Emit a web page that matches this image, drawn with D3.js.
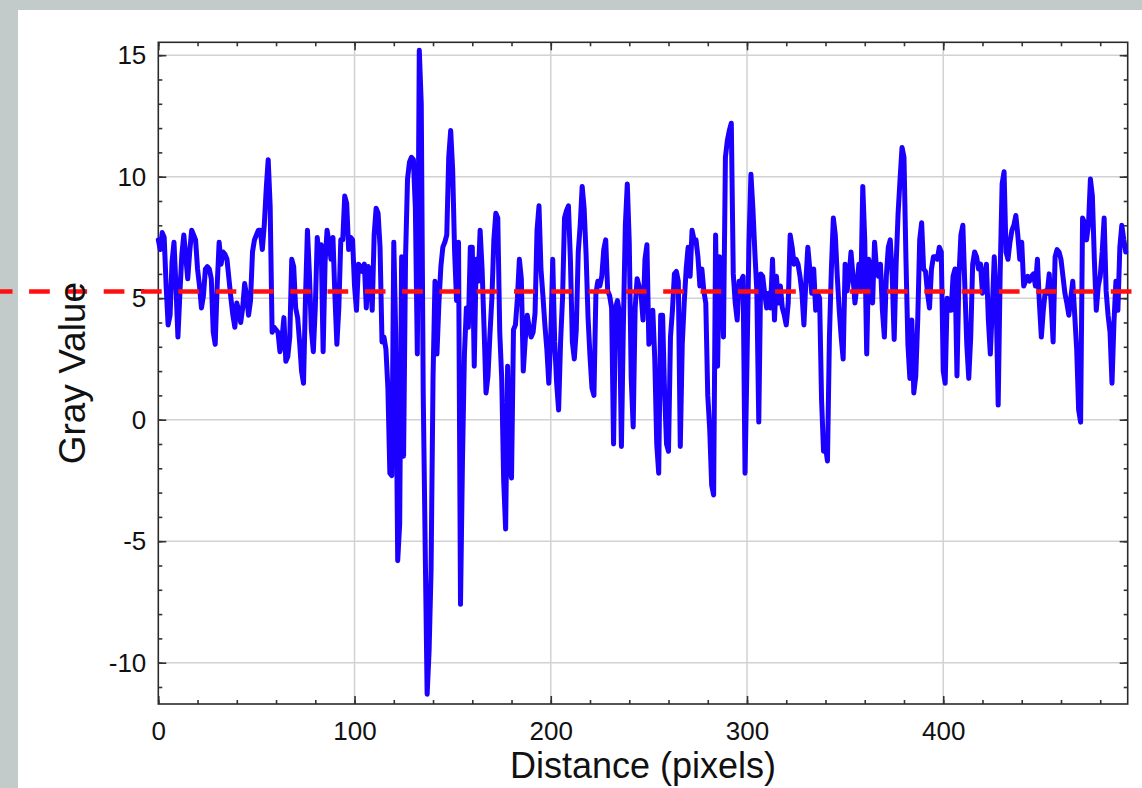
<!DOCTYPE html>
<html>
<head>
<meta charset="utf-8">
<script src="https://cdn.jsdelivr.net/npm/d3@7"></script>
<style>
    html, body { margin: 0; padding: 0; background: #c3caca; }
    #chart { width: 1142px; height: 788px; }
    text { font-family: "Liberation Sans", Arial, Helvetica, sans-serif; fill: #111; }
</style>
</head>
<body>
<div id="chart"></div>
<script>
// profile values, one per pixel of distance (0..493)
const grayValues = [
    7.4, 7.0, 7.7, 7.5, 5.5, 3.9, 4.3, 6.5, 7.3, 5.5, 3.4, 5.2, 6.8, 7.6, 6.7, 5.8, 6.9, 7.8, 7.6, 7.4,
    6.2, 5.5, 4.6, 5.1, 6.2, 6.3, 6.2, 5.8, 3.6, 3.1, 5.5, 7.3, 6.4, 6.9, 6.8, 6.6, 5.8, 5.0, 4.3, 3.8,
    4.8, 4.5, 4.0, 4.6, 5.6, 5.1, 4.3, 4.9, 6.9, 7.4, 7.6, 7.8, 7.8, 7.0, 8.0, 9.5, 10.7, 8.8, 3.6, 3.8,
    3.7, 3.6, 2.8, 3.3, 4.2, 2.4, 2.6, 3.4, 6.6, 6.3, 4.6, 4.2, 3.2, 2.0, 1.5, 5.0, 7.8, 6.0, 3.7, 2.8,
    4.6, 7.5, 6.6, 7.2, 2.8, 6.5, 7.8, 7.3, 6.6, 7.5, 5.1, 3.1, 4.6, 7.4, 7.4, 9.2, 8.9, 7.0, 7.5, 7.4,
    5.5, 4.5, 6.4, 6.3, 6.1, 6.4, 4.6, 6.3, 6.0, 4.5, 7.6, 8.7, 8.5, 7.1, 3.2, 3.4, 2.9, 1.3, -2.2, -2.3,
    7.3, 3.5, -5.8, -4.3, 6.7, -1.5, 6.7, 9.9, 10.6, 10.8, 10.7, 8.7, 2.7, 15.2, 13.0, 1.1, -5.2, -11.3, -9.5, -6.2,
    1.7, 5.7, 2.7, 4.8, 6.3, 7.1, 7.3, 7.6, 10.8, 11.9, 10.3, 6.9, 4.9, 7.3, -7.6, -1.7, 2.7, 4.6, 3.8, 7.1,
    7.1, 2.2, 6.6, 5.7, 7.8, 6.2, 3.8, 1.1, 1.8, 3.5, 5.0, 7.4, 8.5, 8.3, 3.6, 1.7, -2.5, -4.5, 2.2, -1.8,
    -2.4, 3.7, 3.9, 5.0, 6.6, 5.8, 2.0, 3.3, 4.3, 3.8, 3.4, 3.6, 4.4, 7.8, 8.8, 6.2, 5.1, 3.9, 2.9, 1.5,
    3.4, 6.6, 3.2, 1.5, 0.4, 3.2, 5.0, 8.3, 8.6, 8.8, 6.6, 3.2, 2.5, 3.7, 6.9, 8.0, 9.6, 8.7, 6.8, 4.2,
    2.6, 1.3, 1.0, 5.2, 5.7, 5.5, 5.9, 7.0, 7.4, 5.3, 5.1, 4.6, -1.0, 4.6, 4.9, 4.4, -1.1, 3.9, 8.0, 9.7,
    7.3, 1.7, -0.3, 4.6, 5.8, 5.5, 5.2, 4.1, 6.6, 7.2, 3.1, 3.4, 4.5, 2.5, -1.0, -2.2, 4.3, 4.3, 1.1, -1.0,
    -1.3, 3.4, 4.5, 6.0, 6.1, 5.7, -1.1, 3.1, 4.8, 6.2, 7.1, 5.9, 7.8, 7.4, 7.4, 6.7, 5.5, 6.2, 5.3, 4.8,
    1.0, -0.4, -2.7, -3.1, 7.6, 2.2, 6.7, 6.6, 3.4, 10.8, 11.5, 11.9, 12.2, 6.0, 4.8, 4.1, 5.7, 5.7, 5.9, -2.2,
    2.4, 7.3, 10.1, 8.7, 6.9, 5.3, -0.1, 6.0, 5.9, 5.2, 4.6, 5.2, 4.6, 6.6, 4.1, 5.9, 4.8, 5.5, 4.6, 4.3,
    3.9, 4.8, 7.6, 7.1, 6.4, 6.6, 6.4, 5.9, 5.2, 3.9, 5.7, 7.1, 6.2, 5.2, 6.2, 4.5, 5.2, 5.0, 0.8, -1.3,
    -1.1, -1.7, 3.4, 6.2, 8.3, 7.6, 5.9, 4.5, 3.4, 2.5, 6.4, 5.3, 5.9, 6.9, 5.9, 4.8, 5.5, 6.4, 5.3, 9.6,
    7.4, 2.7, 6.6, 6.2, 4.8, 7.3, 6.2, 5.9, 6.4, 4.5, 3.4, 5.9, 7.1, 7.4, 5.9, 3.3, 6.4, 8.5, 9.9, 11.2,
    10.8, 6.6, 3.1, 1.7, 4.1, 1.1, 1.8, 4.1, 7.4, 8.1, 6.2, 6.1, 5.2, 4.6, 6.2, 6.7, 6.7, 6.6, 7.1, 6.9,
    2.0, 1.5, 5.0, 4.5, 4.5, 5.9, 6.2, 1.8, 5.9, 7.6, 8.0, 5.5, 3.1, 1.7, 3.4, 6.4, 6.9, 6.7, 6.2, 6.4,
    5.2, 5.9, 6.4, 4.1, 2.7, 4.6, 6.7, 4.8, 0.6, 6.0, 9.7, 10.2, 6.9, 6.6, 7.3, 7.8, 8.0, 8.4, 7.6, 6.6,
    7.3, 5.5, 5.7, 5.9, 5.7, 5.9, 6.0, 5.5, 6.6, 4.8, 3.4, 4.5, 5.3, 5.2, 6.0, 4.8, 3.2, 6.7, 7.0, 6.9,
    6.6, 5.9, 5.2, 4.8, 4.3, 5.0, 5.7, 4.3, 2.9, 0.4, -0.1, 8.3, 8.1, 7.4, 8.0, 9.9, 9.2, 6.6, 4.5, 5.5,
    5.9, 6.9, 8.3, 5.3, 4.3, 3.6, 1.5, 4.0, 5.7, 4.5, 7.1, 8.0, 7.4, 6.9
];
const distances = grayValues.map((v, i) => i);

// dashed reference level
const refLevel = [5.28];

const xTicks = [0, 100, 200, 300, 400];
const xMinorTicks = d3.range(0, 494, 20);
const yTicks = [-10, -5, 0, 5, 10, 15];
const yMinorTicks = d3.range(-11, 16, 1);

const xDomain = [0, 494];
const yDomain = [-11.7, 15.53];

const W = 1142, H = 788;
const plot = { left: 158.3, right: 1127.7, top: 42.3, bottom: 704 };

const svg = d3.select('#chart')
    .append('svg')
    .attr('width', W)
    .attr('height', H);

// white panel on gray backdrop
svg.append('rect')
    .attr('x', 18).attr('y', 10)
    .attr('width', W - 18).attr('height', H - 10)
    .attr('fill', '#ffffff');

const x = d3.scaleLinear().domain(xDomain).range([plot.left, plot.right]);
const y = d3.scaleLinear().domain(yDomain).range([plot.bottom, plot.top]);

// grid
const grid = svg.append('g').attr('stroke', '#d2d2d2').attr('stroke-width', 1.5);
grid.selectAll('.gx').data(xTicks.filter(d => d > 0))
    .enter().append('line')
    .attr('x1', d => x(d)).attr('x2', d => x(d))
    .attr('y1', plot.top).attr('y2', plot.bottom);
grid.selectAll('.gy').data(yTicks)
    .enter().append('line')
    .attr('x1', plot.left).attr('x2', plot.right)
    .attr('y1', d => y(d)).attr('y2', d => y(d));

// axes: ticks inside on all sides, plain hyphen for minus
function tickAxis(axis, values, size, labels) {
    return axis.tickValues(values).tickSize(size).tickSizeOuter(0)
        .tickFormat(labels ? d => String(d) : '');
}

const axisStyle = g => {
    g.select('.domain').remove();
    g.selectAll('.tick line').attr('stroke', '#333').attr('stroke-width', 1.6);
    g.selectAll('.tick text').attr('font-size', 26).attr('fill', '#111')
        .attr('font-family', '"Liberation Sans", Arial, sans-serif');
};

svg.append('g').attr('transform', `translate(0,${plot.bottom})`)
    .call(tickAxis(d3.axisBottom(x), xMinorTicks, -4, false)).call(axisStyle);
svg.append('g').attr('transform', `translate(0,${plot.bottom})`)
    .call(tickAxis(d3.axisBottom(x), xTicks, -8, true).tickPadding(17.5)).call(axisStyle);
svg.append('g').attr('transform', `translate(0,${plot.top})`)
    .call(tickAxis(d3.axisTop(x), xMinorTicks, -4, false)).call(axisStyle);
svg.append('g').attr('transform', `translate(0,${plot.top})`)
    .call(tickAxis(d3.axisTop(x), xTicks, -8, false)).call(axisStyle);

svg.append('g').attr('transform', `translate(${plot.left},0)`)
    .call(tickAxis(d3.axisLeft(y), yMinorTicks, -4, false)).call(axisStyle);
svg.append('g').attr('transform', `translate(${plot.left},0)`)
    .call(tickAxis(d3.axisLeft(y), yTicks, -8, true).tickPadding(12)).call(axisStyle);
svg.append('g').attr('transform', `translate(${plot.right},0)`)
    .call(tickAxis(d3.axisRight(y), yMinorTicks, -4, false)).call(axisStyle);
svg.append('g').attr('transform', `translate(${plot.right},0)`)
    .call(tickAxis(d3.axisRight(y), yTicks, -8, false)).call(axisStyle);

// frame
svg.append('rect')
    .attr('x', plot.left).attr('y', plot.top)
    .attr('width', plot.right - plot.left).attr('height', plot.bottom - plot.top)
    .attr('fill', 'none').attr('stroke', '#2a2a2a').attr('stroke-width', 1.6);

// profile line
const line = d3.line()
    .x((d, i) => x(distances[i]))
    .y(d => y(d));

svg.append('path')
    .datum(grayValues)
    .attr('fill', 'none')
    .attr('stroke', '#1c00ff')
    .attr('stroke-width', 5)
    .attr('stroke-linejoin', 'round')
    .attr('stroke-linecap', 'round')
    .attr('d', line);

// red dashed level, runs across the whole picture
svg.selectAll('.ref').data(refLevel)
    .enter().append('line')
    .attr('x1', 0).attr('x2', W)
    .attr('y1', d => y(d)).attr('y2', d => y(d))
    .attr('stroke', '#ff1010')
    .attr('stroke-width', 4.5)
    .attr('stroke-dasharray', '20.7 16.6')
    .attr('stroke-dashoffset', 8.2);

// axis titles
svg.append('text')
    .attr('x', (plot.left + plot.right) / 2)
    .attr('y', 778)
    .attr('text-anchor', 'middle')
    .attr('font-size', 36)
    .text('Distance (pixels)');

svg.append('text')
    .attr('transform', `translate(85,${(plot.top + plot.bottom) / 2}) rotate(-90)`)
    .attr('text-anchor', 'middle')
    .attr('font-size', 37)
    .text('Gray Value');
</script>
</body>
</html>
